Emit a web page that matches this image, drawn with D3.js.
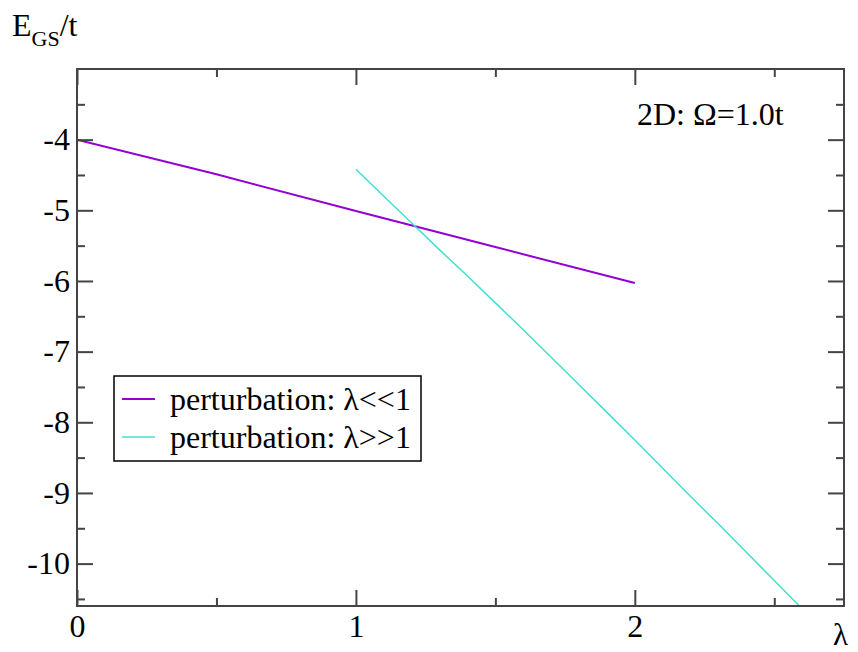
<!DOCTYPE html>
<html>
<head>
<meta charset="utf-8">
<script src="https://cdn.jsdelivr.net/npm/d3@7"></script>
<style>
  body { margin: 0; background: #fff; }
  svg { display: block; }
  text { font-family: "Liberation Serif", "Times New Roman", serif; fill: #000; }
</style>
</head>
<body>
<div id="chart"></div>
<script>
var width = 858;
var height = 652;

// data
var smallLambda = [0.0, 0.5, 1.0, 1.5, 2.0];
var smallEnergy = [-4.00, -4.49, -5.01, -5.52, -6.03];

var largeLambda = [1.0, 1.1, 1.2, 1.3, 1.4, 1.5, 1.6, 1.7, 1.8, 1.9, 2.0, 2.1, 2.2, 2.3, 2.4, 2.5, 2.6];
var largeEnergy = [-4.42, -4.80, -5.18, -5.56, -5.93, -6.31, -6.69, -7.08, -7.47, -7.86, -8.25, -8.65, -9.05, -9.44, -9.84, -10.24, -10.64];

var seriesNames = ["perturbation: \u03bb<<1", "perturbation: \u03bb>>1"];
var seriesColors = ["#9400d3", "#40e0d0"];

var xMajor = [0, 1, 2];
var xMinor = [0.5, 1.5, 2.5];
var yMajor = [-10, -9, -8, -7, -6, -5, -4];
var yMinor = [-10.5, -9.5, -8.5, -7.5, -6.5, -5.5, -4.5, -3.5];

var margin = { left: 77, top: 69, right: 14, bottom: 46 };
var plotW = width - margin.left - margin.right;
var plotH = height - margin.top - margin.bottom;
var fontSize = "32px";

var x = d3.scaleLinear().domain([0, 2.75]).range([0, plotW]);
var y = d3.scaleLinear().domain([-10.6, -3]).range([plotH, 0]);

var svg = d3.select("#chart")
  .append("svg")
    .attr("width", width)
    .attr("height", height);

var g = svg.append("g")
    .attr("transform", "translate(" + margin.left + "," + margin.top + ")");

g.append("clipPath")
    .attr("id", "clip")
  .append("rect")
    .attr("width", plotW)
    .attr("height", plotH);

var line = d3.line()
    .x(function(d) { return x(d[0]); })
    .y(function(d) { return y(d[1]); });

var series = [
  d3.zip(smallLambda, smallEnergy),
  d3.zip(largeLambda, largeEnergy)
];

g.selectAll(".series")
  .data(series)
  .enter().append("path")
    .attr("class", "series")
    .attr("clip-path", "url(#clip)")
    .attr("fill", "none")
    .attr("stroke", function(d, i) { return seriesColors[i]; })
    .attr("stroke-width", function(d, i) { return i === 0 ? 2 : 1.5; })
    .attr("d", line);

// axes, ticks pointing inward on all four sides
function styleAxis(sel) {
  sel.select(".domain").remove();
  sel.selectAll("line").attr("stroke", "#444").attr("stroke-width", 2);
  sel.selectAll("text").style("font-family", "Liberation Serif").style("font-size", fontSize).attr("fill", "#000");
}

g.append("g")
    .attr("transform", "translate(0," + plotH + ")")
    .call(d3.axisBottom(x).tickValues(xMajor).tickFormat(d3.format("d")).tickSize(-16).tickPadding(8))
    .call(styleAxis);

g.append("g")
    .attr("transform", "translate(0," + plotH + ")")
    .call(d3.axisBottom(x).tickValues(xMinor).tickFormat("").tickSize(-8))
    .call(styleAxis);

g.append("g")
    .call(d3.axisTop(x).tickValues(xMajor).tickFormat("").tickSize(-16))
    .call(styleAxis);

g.append("g")
    .call(d3.axisTop(x).tickValues(xMinor).tickFormat("").tickSize(-8))
    .call(styleAxis);

g.append("g")
    .call(d3.axisLeft(y).tickValues(yMajor).tickFormat(d3.format("d")).tickSize(-16).tickPadding(7))
    .call(styleAxis)
    .selectAll("text").text(function(d) { return "-" + Math.abs(d); });

g.append("g")
    .call(d3.axisLeft(y).tickValues(yMinor).tickFormat("").tickSize(-8))
    .call(styleAxis);

g.append("g")
    .attr("transform", "translate(" + plotW + ",0)")
    .call(d3.axisRight(y).tickValues(yMajor).tickFormat("").tickSize(-16))
    .call(styleAxis);

g.append("g")
    .attr("transform", "translate(" + plotW + ",0)")
    .call(d3.axisRight(y).tickValues(yMinor).tickFormat("").tickSize(-8))
    .call(styleAxis);

// frame
g.append("rect")
    .attr("width", plotW)
    .attr("height", plotH)
    .attr("fill", "none")
    .attr("stroke", "#444")
    .attr("stroke-width", 2);

// axis titles
var yTitle = svg.append("text")
    .attr("x", 12)
    .attr("y", 36)
    .style("font-size", "32px");
yTitle.append("tspan").text("E");
yTitle.append("tspan").attr("dy", 10).style("font-size", "22px").text("GS");
yTitle.append("tspan").attr("dy", -10).text("/t");

svg.append("text")
    .attr("x", 833)
    .attr("y", 645)
    .style("font-size", "31px")
    .text("\u03bb");

svg.append("text")
    .attr("x", 637)
    .attr("y", 125)
    .style("font-size", fontSize)
    .text("2D: \u03a9=1.0t");

// legend
var legend = svg.append("g")
    .attr("transform", "translate(114,376)");

legend.append("rect")
    .attr("width", 307)
    .attr("height", 85)
    .attr("fill", "#fff")
    .attr("stroke", "#000")
    .attr("stroke-width", 1.5);

var legendItem = legend.selectAll(".legend")
  .data(seriesNames)
  .enter().append("g")
    .attr("class", "legend")
    .attr("transform", function(d, i) { return "translate(0," + (23 + i * 38) + ")"; });

legendItem.append("line")
    .attr("x1", 8)
    .attr("x2", 41)
    .attr("stroke", function(d, i) { return seriesColors[i]; })
    .attr("stroke-width", function(d, i) { return i === 0 ? 2 : 1.5; });

legendItem.append("text")
    .attr("x", 56)
    .attr("y", 11)
    .style("font-size", fontSize)
    .text(function(d) { return d; });
</script>
</body>
</html>
